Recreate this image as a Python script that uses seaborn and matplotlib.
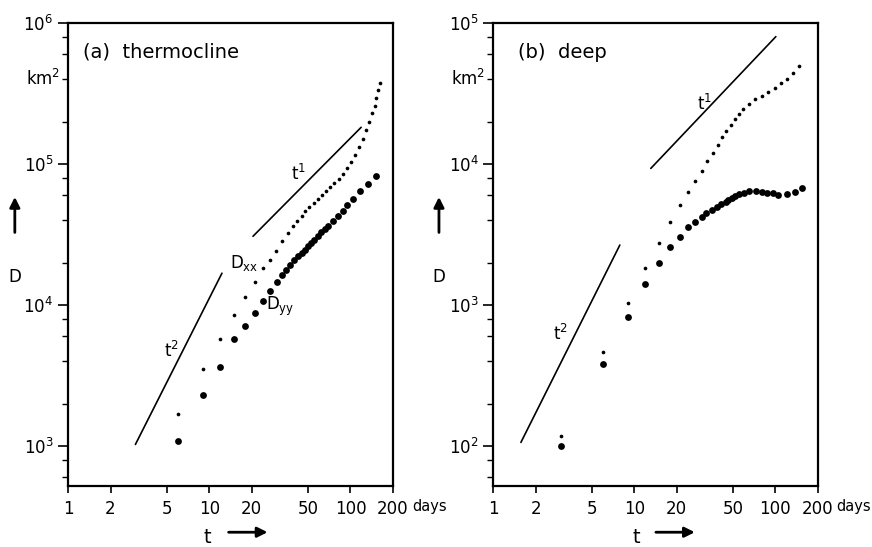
import pandas as pd
import matplotlib
matplotlib.use("Agg")
import matplotlib.pyplot as plt
import seaborn as sns
from matplotlib.ticker import LogLocator, NullFormatter, FixedLocator, FixedFormatter
from matplotlib.transforms import blended_transform_factory

# (a) thermocline
thermo_t_xx = [6, 9, 12, 15, 18, 21, 24, 27, 29.5, 33, 36, 39, 42, 45, 48, 51, 55, 59,
               63, 67, 72, 77, 83, 88, 94, 101, 108, 114, 122, 129, 136, 142, 148, 152, 156, 161]
thermo_dxx = [1690, 3510, 5780, 8450, 11350, 14600, 18300, 21000, 24300, 28600, 32400,
              36100, 39600, 43000, 46100, 49500, 52900, 56800, 60600, 64600, 68600, 73100,
              78500, 85300, 93500, 103000, 116000, 132000, 151000, 175000, 200000, 229000,
              258000, 293000, 332000, 378000]
thermo_t_yy = [6, 9, 12, 15, 18, 21, 24, 27, 30, 32.5, 35, 37.5, 40, 42.5, 45, 47.5, 50,
               52.5, 55.5, 59, 62, 65.5, 69, 75, 81, 88, 95, 104, 117, 133, 152]
thermo_dyy = [1080, 2300, 3660, 5700, 7150, 8700, 10600, 12600, 14500, 16300, 17800,
              19300, 20700, 22100, 23400, 24700, 26000, 27500, 29100, 30700, 32700, 34600,
              36500, 39200, 42500, 46100, 51400, 56700, 63800, 72000, 81500]

# (b) deep
deep_t_xx = [3, 6, 9, 12, 15, 18, 21, 24, 27, 30, 33, 36, 39, 42, 45, 48.5, 52, 55, 59,
             65, 72, 80, 89, 99, 109, 121, 134, 147]
deep_dxx = [117, 465, 1035, 1815, 2750, 3890, 5100, 6350, 7600, 8900, 10500, 12000, 13600,
            15600, 17100, 18900, 20700, 22600, 24400, 26500, 28700, 30500, 32500, 34700,
            37300, 40100, 44000, 49800]
deep_t_yy = [3, 6, 9, 12, 15, 18, 21, 24, 27, 30, 32.5, 35.5, 38.5, 41.5, 44.5, 46.5, 49,
             52, 55, 60, 65, 73.5, 81, 88, 96, 105, 122, 139, 156]
deep_dyy = [100, 384, 828, 1412, 1970, 2560, 3040, 3550, 3850, 4180, 4460, 4700, 4920,
            5160, 5390, 5545, 5750, 5950, 6080, 6250, 6420, 6450, 6320, 6260, 6180, 6020,
            6100, 6320, 6780]

# reference slopes (end points)
thermo_t2 = ([3.0, 12.3], [1025, 16800])
thermo_t1 = ([20.4, 119], [30700, 182000])
deep_t2 = ([1.57, 7.9], [106, 2660])
deep_t1 = ([13.1, 101], [9300, 80000])

x_ticks = [1, 2, 5, 10, 20, 50, 100, 200]
x_ticklabels = ["1", "2", "5", "10", "20", "50", "100", "200"]

sns.set_style("ticks")
plt.rcParams["font.family"] = ["DejaVu Sans"]
plt.rcParams["mathtext.fontset"] = "dejavusans"
plt.rcParams["text.color"] = "black"
plt.rcParams["xtick.color"] = "black"
plt.rcParams["ytick.color"] = "black"

fig = plt.figure(figsize=(8.72, 5.47), dpi=100)
ax_a = fig.add_axes([0.078, 0.1115, 0.3727, 0.8465])
ax_b = fig.add_axes([0.5657, 0.1115, 0.372, 0.8465])


def draw_panel(ax, t_xx, dxx, t_yy, dyy, t2, t1, ylim, title, title_x, km_y,
               t2_pos, t1_pos):
    df_xx = pd.DataFrame({"t": t_xx, "D": dxx})
    df_yy = pd.DataFrame({"t": t_yy, "D": dyy})
    sns.lineplot(x=t2[0], y=t2[1], color="black", lw=1.2, ax=ax)
    sns.lineplot(x=t1[0], y=t1[1], color="black", lw=1.2, ax=ax)
    sns.scatterplot(data=df_xx, x="t", y="D", s=7, color="black", linewidth=0, ax=ax)
    sns.scatterplot(data=df_yy, x="t", y="D", s=24, color="black", linewidth=0, ax=ax)
    ax.set_xscale("log")
    ax.set_yscale("log")
    ax.set_xlim(1, 200)
    ax.set_ylim(*ylim)
    ax.set_xlabel("")
    ax.set_ylabel("")

    ax.xaxis.set_major_locator(FixedLocator(x_ticks))
    ax.xaxis.set_major_formatter(FixedFormatter(x_ticklabels))
    ax.xaxis.set_minor_locator(FixedLocator([]))
    ax.yaxis.set_major_locator(LogLocator(base=10))
    ax.yaxis.set_minor_locator(LogLocator(base=10, subs=[2, 4, 6, 8]))
    ax.yaxis.set_minor_formatter(NullFormatter())
    ax.tick_params(axis="both", which="major", direction="out", length=7, width=1.2,
                   labelsize=12, colors="black")
    ax.tick_params(axis="y", which="minor", direction="out", length=4, width=1.0)
    ax.tick_params(axis="x", which="major", length=5, pad=5)
    for sp in ax.spines.values():
        sp.set_visible(True)
        sp.set_linewidth(1.6)
        sp.set_color("black")

    ax.text(title_x, 0.937, title, transform=ax.transAxes, fontsize=14,
            ha="left", va="center")
    tr = blended_transform_factory(ax.transAxes, ax.transData)
    ax.text(-0.025, km_y, "km$^2$", transform=tr, fontsize=12, ha="right", va="center")
    ax.text(1.058, -0.045, "days", transform=ax.transAxes, fontsize=10.5,
            ha="left", va="center")
    ax.text(t2_pos[0], t2_pos[1], "t$^2$", fontsize=12, ha="center", va="center")
    ax.text(t1_pos[0], t1_pos[1], "t$^1$", fontsize=12, ha="center", va="center")


draw_panel(ax_a, thermo_t_xx, thermo_dxx, thermo_t_yy, thermo_dyy, thermo_t2, thermo_t1,
           (520, 1e6), "(a)  thermocline", 0.046, 4e5, (5.4, 4700), (43, 85000))
draw_panel(ax_b, deep_t_xx, deep_dxx, deep_t_yy, deep_dyy, deep_t2, deep_t1,
           (52, 1e5), "(b)  deep", 0.077, 4e4, (3.0, 620), (31.7, 26600))

ax_a.text(17.8, 19950, r"D$_{\mathrm{xx}}$", fontsize=12, ha="center", va="center")
ax_a.text(32, 9750, r"D$_{\mathrm{yy}}$", fontsize=12, ha="center", va="center")

# axis captions with arrows (figure coords)
for x0 in (0.017, 0.5034):
    fig.text(x0, 0.494, "D", fontsize=12, ha="center", va="center")
    fig.add_artist(matplotlib.patches.FancyArrowPatch(
        (x0, 0.57), (x0, 0.645), transform=fig.transFigure,
        arrowstyle="-|>,head_length=0.5,head_width=0.25", lw=2.0, color="black",
        mutation_scale=12))
for xt, xa0, xa1 in ((0.2374, 0.259, 0.31), (0.7294, 0.749, 0.8)):
    fig.text(xt, 0.018, "t", fontsize=14, ha="center", va="center")
    fig.add_artist(matplotlib.patches.FancyArrowPatch(
        (xa0, 0.027), (xa1, 0.027), transform=fig.transFigure,
        arrowstyle="-|>,head_length=0.5,head_width=0.25", lw=2.0, color="black",
        mutation_scale=12))

fig.savefig("out.png", dpi=100)
